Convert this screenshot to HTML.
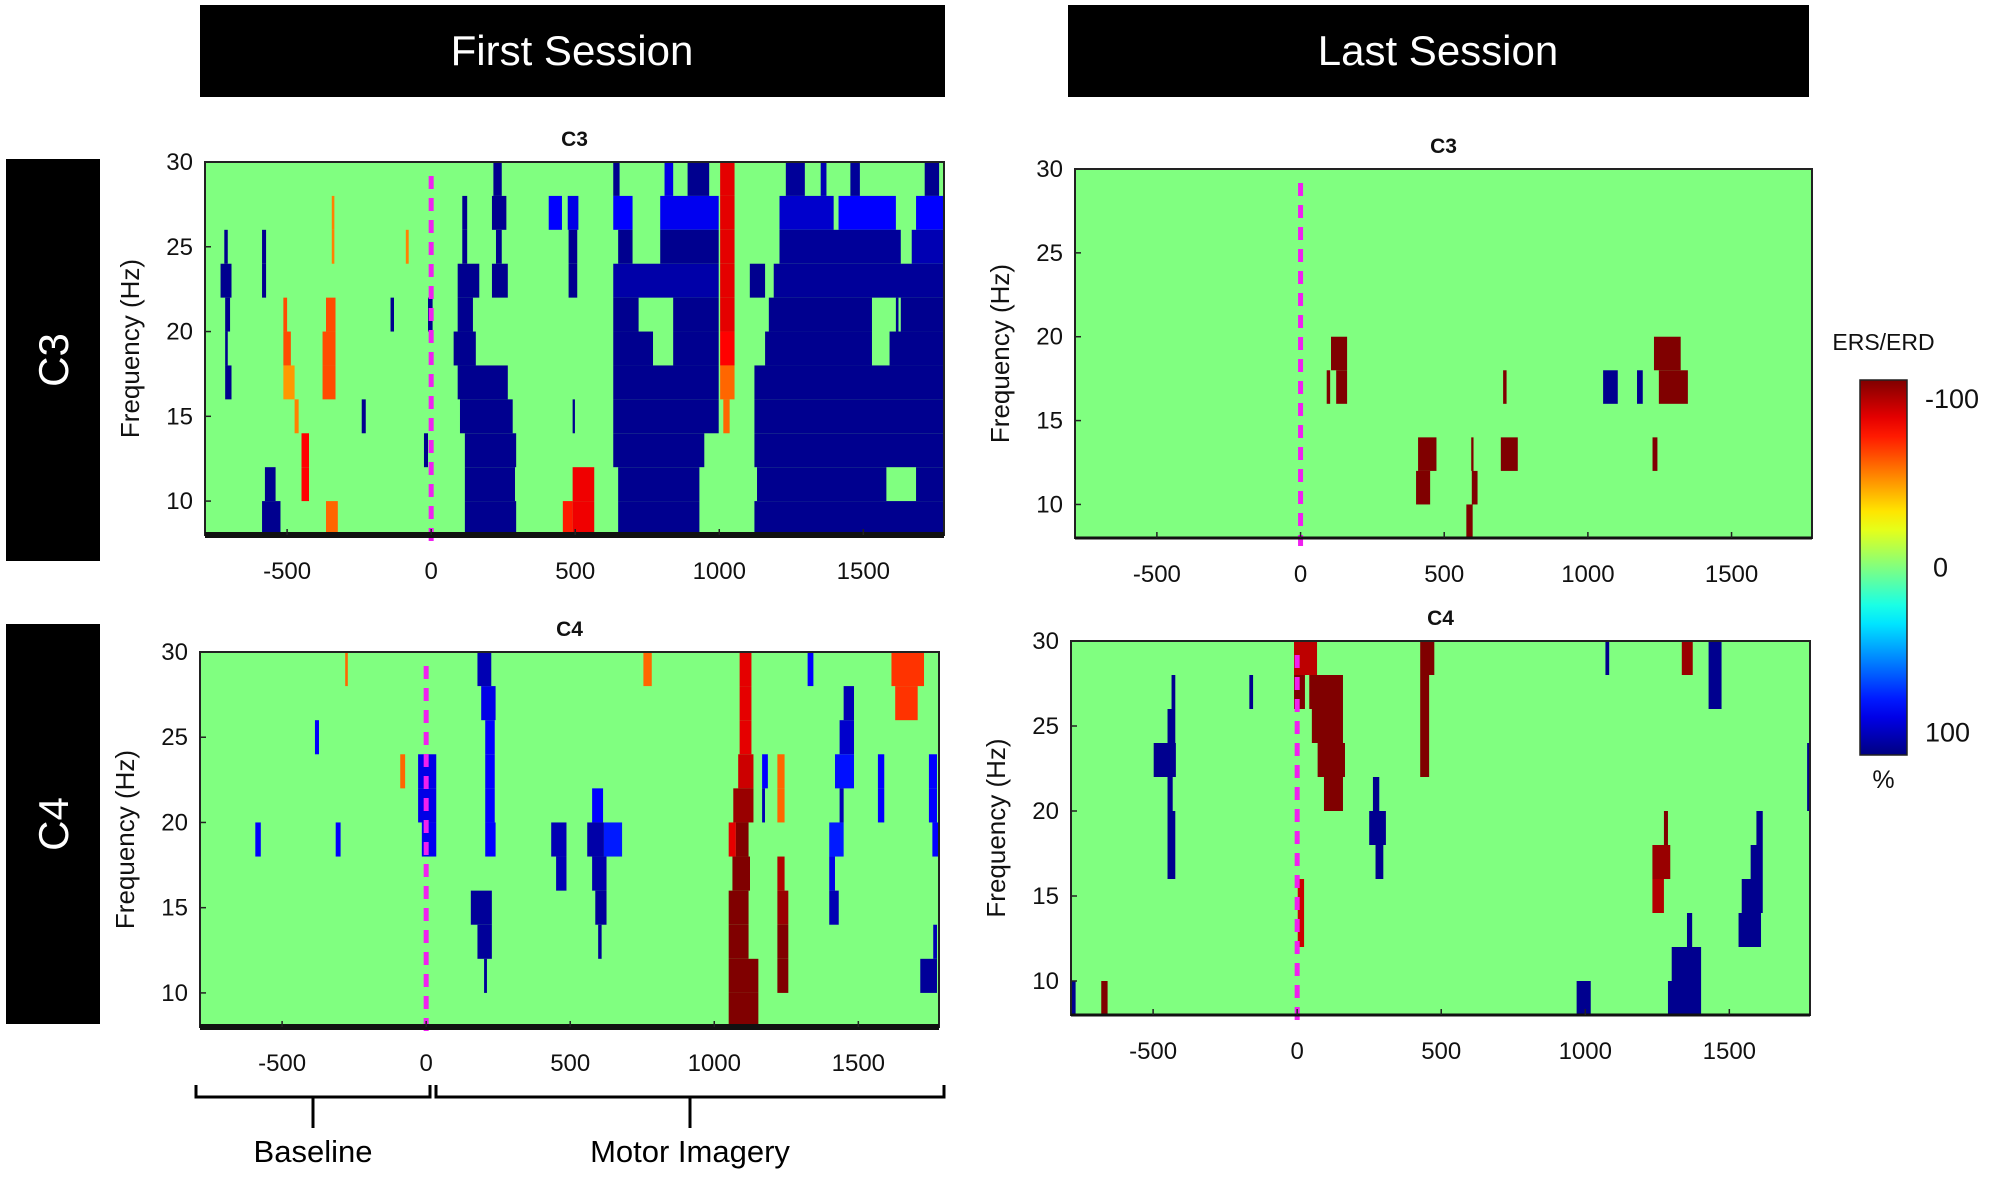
<!DOCTYPE html>
<html><head><meta charset="utf-8"><style>
html,body{margin:0;padding:0;background:#fff;}
svg{display:block;font-family:"Liberation Sans",Arial,sans-serif;}
</style></head><body>
<svg id="fig" width="2000" height="1183" viewBox="0 0 2000 1183">
<defs><linearGradient id="cbgrad" x1="0" y1="0" x2="0" y2="1"></linearGradient></defs>
<rect x="200" y="5" width="745" height="92" fill="#000"/>
<text x="572" y="65" font-size="42" fill="#fff" text-anchor="middle">First Session</text>
<rect x="1068" y="5" width="741" height="92" fill="#000"/>
<text x="1438" y="65" font-size="42" fill="#fff" text-anchor="middle">Last Session</text>
<rect x="6" y="159" width="94" height="402" fill="#000"/>
<text transform="translate(68,360) rotate(-90)" font-size="42" fill="#fff" text-anchor="middle">C3</text>
<rect x="6" y="624" width="94" height="400" fill="#000"/>
<text transform="translate(68,824) rotate(-90)" font-size="42" fill="#fff" text-anchor="middle">C4</text>
<g id="panels"></g>
<g id="cbar"></g>
<g stroke="#000" stroke-width="3" fill="none">
<path d="M196 1085 V1097 H430 V1085 M313 1097 V1128"/>
<path d="M436 1085 V1097 H944 V1085 M690 1097 V1128"/>
</g>
<text x="313" y="1162" font-size="31" text-anchor="middle">Baseline</text>
<text x="690" y="1162" font-size="31" text-anchor="middle">Motor Imagery</text>
</svg>
<script>
const freqEdges=[30,28,26,24,22,20,18,16,14,12,10,8];
const xTicks=[-500,0,500,1000,1500];
const yTicks=[10,15,20,25,30];
const cbarTicks=[-100,0,100];
// segments: [rowIndex, tStart(ms), tEnd(ms), value(%)]
const firstC3=[
[0,216,245,97],[0,632,654,97],[0,810,840,80],[0,890,965,97],[0,1003,1053,-80],[0,1231,1297,95],[0,1352,1372,90],[0,1455,1488,95],[0,1713,1763,97],
[1,108,125,97],[1,211,261,97],[1,408,454,75],[1,474,511,80],[1,632,699,75],[1,795,998,78],[1,1003,1053,-80],[1,1209,1397,85],[1,1414,1613,75],[1,1683,1779,75],[1,-345,-336,-50],
[2,-718,-706,97],[2,-587,-573,97],[2,108,125,97],[2,225,245,97],[2,477,507,97],[2,649,699,97],[2,795,998,97],[2,1003,1053,-80],[2,1209,1630,95],[2,1668,1779,90],[2,-345,-336,-50],[2,-88,-78,-50],
[3,-731,-693,97],[3,-587,-573,97],[3,92,167,97],[3,211,266,97],[3,477,507,97],[3,632,998,92],[3,1003,1053,-80],[3,1106,1159,97],[3,1189,1779,95],
[4,-715,-698,97],[4,-513,-500,-60],[4,-365,-332,-60],[4,-141,-129,97],[4,-11,5,97],[4,92,145,97],[4,632,720,97],[4,840,998,97],[4,1003,1053,-80],[4,1172,1530,97],[4,1613,1622,97],[4,1630,1779,97],
[5,-715,-706,97],[5,-513,-487,-60],[5,-377,-332,-60],[5,78,155,97],[5,632,770,97],[5,840,998,97],[5,1003,1053,-75],[5,1159,1530,97],[5,1591,1779,97],
[6,-715,-693,97],[6,-513,-474,-45],[6,-377,-332,-60],[6,92,266,97],[6,632,998,97],[6,1003,1053,-55],[6,1122,1779,97],
[7,-474,-460,-50],[7,-241,-227,97],[7,100,283,97],[7,491,499,97],[7,632,998,97],[7,1014,1036,-55],[7,1122,1779,97],
[8,-450,-424,-75],[8,-25,-11,97],[8,117,295,97],[8,632,948,97],[8,1122,1779,97],
[9,-577,-540,97],[9,-450,-424,-75],[9,117,291,97],[9,491,566,-78],[9,649,931,97],[9,1131,1580,97],[9,1683,1779,97],
[10,-587,-523,97],[10,-365,-324,-55],[10,117,295,97],[10,457,491,-70],[10,491,566,-78],[10,649,931,97],[10,1122,1779,97]
];
const firstC4=[
[0,-281,-272,-55],[0,178,226,90],[0,754,783,-55],[0,1088,1129,-80],[0,1324,1344,75],[0,1615,1728,-65],
[1,191,241,80],[1,1088,1129,-80],[1,1449,1485,90],[1,1628,1706,-65],
[2,-386,-372,75],[2,205,238,75],[2,1088,1129,-80],[2,1435,1485,85],
[3,-90,-73,-55],[3,-28,35,80],[3,205,238,75],[3,1083,1136,-85],[3,1166,1186,75],[3,1219,1244,-55],[3,1419,1485,72],[3,1568,1590,75],[3,1745,1773,75],
[4,-28,35,80],[4,205,238,75],[4,576,614,75],[4,1066,1136,-95],[4,1166,1176,90],[4,1219,1244,-55],[4,1435,1449,90],[4,1568,1590,75],[4,1745,1773,75],
[5,-593,-574,75],[5,-314,-297,75],[5,-15,35,78],[5,205,241,75],[5,434,487,90],[5,559,617,92],[5,617,680,70],[5,1050,1075,-80],[5,1075,1119,-100],[5,1399,1449,70],[5,1757,1778,75],
[6,451,487,90],[6,576,626,92],[6,1063,1124,-100],[6,1219,1244,-90],[6,1399,1419,80],
[7,155,228,95],[7,587,626,95],[7,1050,1119,-100],[7,1219,1257,-95],[7,1399,1432,90],
[8,178,228,95],[8,597,609,95],[8,1050,1119,-100],[8,1219,1257,-100],[8,1760,1773,90],
[9,201,211,95],[9,1050,1153,-100],[9,1219,1257,-100],[9,1715,1773,95],
[10,1050,1153,-100]
];
const lastC3=[
[5,106,162,-100],[5,1230,1323,-100],[6,91,103,-100],[6,124,162,-100],[6,705,717,-100],[6,1053,1104,97],[6,1171,1191,97],[6,1247,1348,-100],
[8,409,473,-100],[8,594,602,-100],[8,697,756,-100],[8,1225,1242,-100],[9,402,451,-100],[9,596,616,-100],[10,577,599,-100]
];
const lastC4=[
[0,-11,69,-88],[0,427,476,-100],[0,1070,1083,97],[0,1335,1373,-95],[0,1428,1473,97],
[1,-436,-423,97],[1,-166,-153,97],[1,-11,27,-100],[1,42,159,-100],[1,427,458,-100],[1,1428,1473,97],
[2,-450,-423,97],[2,51,159,-100],[2,427,458,-100],
[3,-498,-421,97],[3,71,166,-100],[3,427,458,-100],[3,1770,1780,97],
[4,-450,-432,97],[4,93,159,-100],[4,263,285,97],[4,1770,1780,97],
[5,-450,-423,97],[5,250,308,97],[5,1273,1287,-100],[5,1594,1616,97],
[6,-450,-423,97],[6,272,299,97],[6,1233,1295,-95],[6,1574,1616,97],
[7,2,24,-85],[7,1233,1273,-90],[7,1543,1616,97],
[8,2,24,-85],[8,1353,1371,97],[8,1532,1610,97],
[9,1300,1402,97],
[10,-782,-769,97],[10,-680,-658,-100],[10,970,1019,97],[10,1287,1402,97]
];

const NS='http://www.w3.org/2000/svg';
function mk(tag,attrs,parent){const e=document.createElementNS(NS,tag);for(const k in attrs)e.setAttribute(k,attrs[k]);parent.appendChild(e);return e;}
function cl(x){return Math.max(0,Math.min(1,x));}
function jet(v){const t=(100-v)/200;const r=cl(1.5-Math.abs(4*t-3)),g=cl(1.5-Math.abs(4*t-2)),b=cl(1.5-Math.abs(4*t-1));
 return 'rgb('+Math.round(r*255)+','+Math.round(g*255)+','+Math.round(b*255)+')';}

const panels=[
 {key:'first-c3',title:'C3',data:firstC3,x0:205,x1:944,y0:162,y1:535,thick:true},
 {key:'first-c4',title:'C4',data:firstC4,x0:200,x1:939,y0:652,y1:1027,thick:true},
 {key:'last-c3',title:'C3',data:lastC3,x0:1075,x1:1812,y0:169,y1:538,thick:false},
 {key:'last-c4',title:'C4',data:lastC4,x0:1071,x1:1810,y0:641,y1:1015,thick:false}
];
const tMin=-785,tMax=1780,fMin=8,fMax=30;
const root=document.getElementById('panels');
panels.forEach(p=>{
 const g=mk('g',{},root);
 
 
 const xs=t=>p.x0+(t-tMin)/(tMax-tMin)*(p.x1-p.x0);
 const ys=f=>p.y1-(f-fMin)/(fMax-fMin)*(p.y1-p.y0);
 const bg=mk('rect',{x:p.x0,y:p.y0,width:p.x1-p.x0,height:p.y1-p.y0,fill:jet(0)},g);
 
 
 p.data.forEach(s=>{
  const a=Math.max(xs(s[1]),p.x0),b=Math.min(xs(s[2]),p.x1);
  const r=mk('rect',{x:a,y:ys(freqEdges[s[0]]),width:Math.max(1.5,b-a),height:ys(freqEdges[s[0]+1])-ys(freqEdges[s[0]]),fill:jet(s[3])},g);
  
  
 });
 const ln=mk('line',{x1:xs(0),x2:xs(0),y1:p.y0+14,y2:p.y1+8,stroke:'#f020f0','stroke-width':5,'stroke-dasharray':'13 9'},g);
 
 
 const fr=mk('rect',{x:p.x0,y:p.y0,width:p.x1-p.x0,height:p.y1-p.y0,fill:'none',stroke:'#222','stroke-width':2},g);
 
 
 const bl=mk('line',{x1:p.x0,x2:p.x1,y1:p.y1,y2:p.y1,stroke:'#111','stroke-width':p.thick?6:3},g);
 
 
 xTicks.forEach(t=>{
  const tk=mk('line',{x1:xs(t),x2:xs(t),y1:p.y1,y2:p.y1-6,stroke:'#222','stroke-width':1.5},g);
  
  
  const tx=mk('text',{x:xs(t),y:p.y1+44,'font-size':24,'text-anchor':'middle',fill:'#111'},g);
  tx.textContent=t;
  
  
 });
 yTicks.forEach(f=>{
  const tk=mk('line',{x1:p.x0,x2:p.x0+6,y1:ys(f),y2:ys(f),stroke:'#222','stroke-width':1.5},g);
  
  
  const tx=mk('text',{x:p.x0-12,y:ys(f)+8,'font-size':24,'text-anchor':'end',fill:'#111'},g);
  tx.textContent=f;
  
  
 });
 const yl=mk('text',{transform:'translate('+(p.x0-66)+','+((p.y0+p.y1)/2)+') rotate(-90)','font-size':26,'text-anchor':'middle',fill:'#111'},g);
 yl.textContent='Frequency (Hz)';
 
 
 const tt=mk('text',{x:(p.x0+p.x1)/2,y:p.y0-16,'font-size':21,'font-weight':'bold','text-anchor':'middle',fill:'#111'},g);
 tt.textContent=p.title;
 
 
});
const grad=document.getElementById('cbgrad');
for(let i=0;i<=20;i++){const v=-100+i*10;mk('stop',{offset:(i/20),'stop-color':jet(v)},grad);}
const cb=document.getElementById('cbar');
const cbx=1860,cbw=47,cby0=380,cby1=755;
mk('rect',{x:cbx,y:cby0,width:cbw,height:cby1-cby0,fill:'url(#cbgrad)',stroke:'#222','stroke-width':1.5},cb);
const cys=v=>cby0+(v+100)/200*(cby1-cby0);
cbarTicks.forEach(v=>{
 const tx=mk('text',{x:cbx+cbw+(v===0?26:18),y:cys(v===-100?-90:(v===100?88:v))+9,'font-size':27,fill:'#111'},cb);
 tx.textContent=v;
 
 
});
const ct=mk('text',{x:cbx+cbw/2,y:350,'font-size':23,'text-anchor':'middle',fill:'#111'},cb);
ct.textContent='ERS/ERD';


const pc=mk('text',{x:cbx+cbw/2,y:788,'font-size':25,'text-anchor':'middle',fill:'#111'},cb);
pc.textContent='%';


</script>
</body></html>
